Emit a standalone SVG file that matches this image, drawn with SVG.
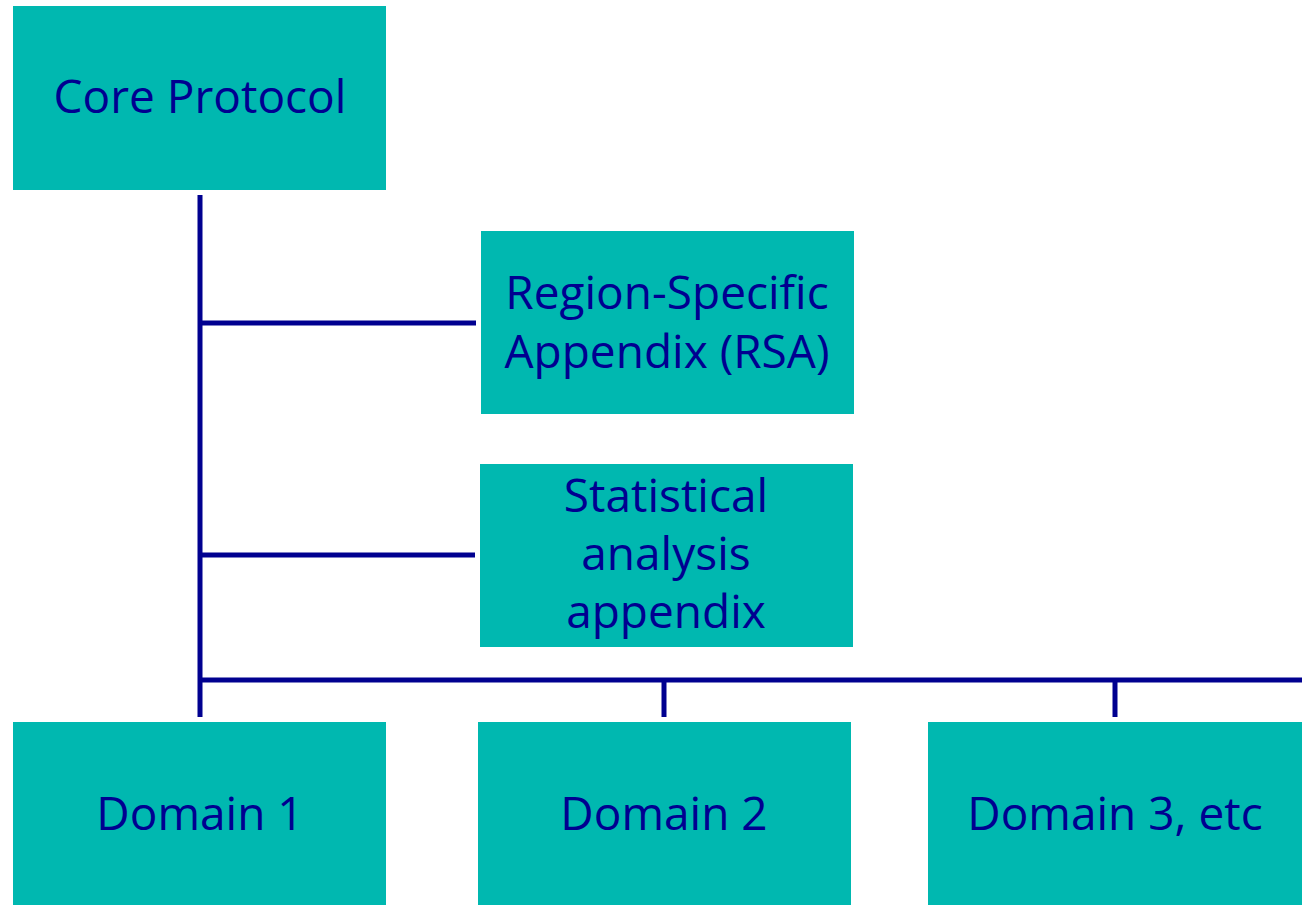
<svg xmlns="http://www.w3.org/2000/svg" width="1307" height="905" viewBox="0 0 1307 905">
<style>
.box{fill:#00B8B0;}
.t{font-family:"Open Sans","Liberation Sans",sans-serif;font-size:46px;fill:#000090;text-anchor:middle;}
.ln{stroke:#000090;stroke-width:5;fill:none;}
</style>
<rect width="1307" height="905" fill="#ffffff"/>
<g id="connectors">
<line class="ln" x1="200" y1="195" x2="200" y2="717"/>
<line class="ln" x1="200" y1="323" x2="476" y2="323"/>
<line class="ln" x1="200" y1="555" x2="475" y2="555"/>
<line class="ln" x1="200" y1="680" x2="1302" y2="680"/>
<line class="ln" x1="664" y1="680" x2="664" y2="717"/>
<line class="ln" x1="1115" y1="680" x2="1115" y2="717"/>
</g>
<g id="core">
<rect class="box" x="13" y="6" width="373" height="184"/>
<text class="t" x="200" y="113">Core Protocol</text>
</g>
<g id="rsa">
<rect class="box" x="481" y="231" width="373" height="183"/>
<text class="t" x="667" y="309">Region-Specific</text>
<text class="t" x="667" y="368">Appendix (RSA)</text>
</g>
<g id="stats">
<rect class="box" x="480" y="464" width="373" height="183"/>
<text class="t" x="666" y="512">Statistical</text>
<text class="t" x="666" y="570">analysis</text>
<text class="t" x="666" y="628">appendix</text>
</g>
<g id="domain1">
<rect class="box" x="13" y="722" width="373" height="183"/>
<text class="t" x="200" y="830">Domain 1</text>
</g>
<g id="domain2">
<rect class="box" x="478" y="722" width="373" height="183"/>
<text class="t" x="664" y="830">Domain 2</text>
</g>
<g id="domain3">
<rect class="box" x="928" y="722" width="374" height="183"/>
<text class="t" x="1115" y="830">Domain 3, etc</text>
</g>
</svg>
